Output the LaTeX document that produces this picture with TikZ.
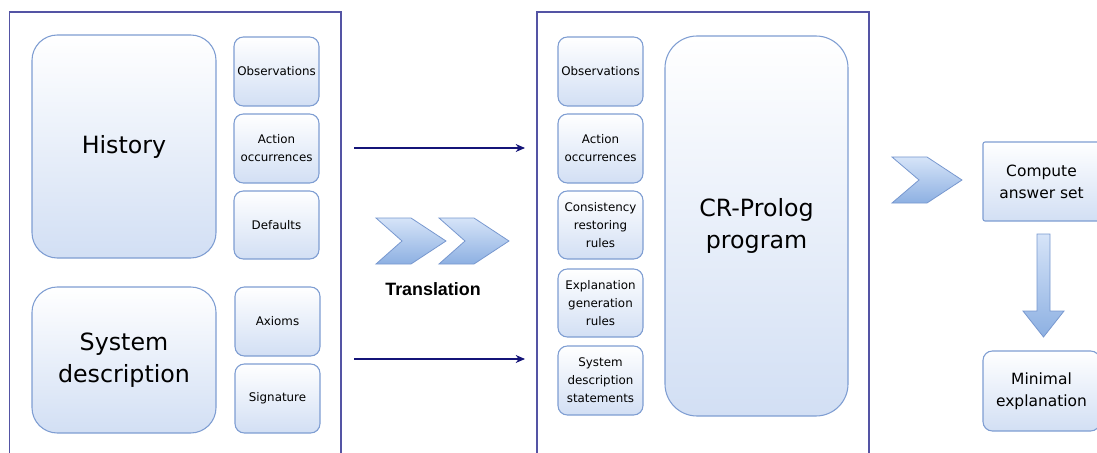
\documentclass[tikz,border=0pt]{standalone}
\usepackage{fontspec}
\setmainfont{DejaVu Sans}
\newfontfamily\boldsans{Liberation Sans}
\usetikzlibrary{arrows.meta}
\definecolor{frame}{HTML}{5454A4}
\definecolor{navy}{HTML}{141478}
\definecolor{bxborder}{HTML}{7E9DD2}
\definecolor{bxbottom}{HTML}{D2DFF4}
\definecolor{chtop}{HTML}{D6E4F8}
\definecolor{chbot}{HTML}{8DB0E2}
\definecolor{chborder}{HTML}{7898CF}
\tikzset{
  px/.style={x=0.75pt,y=-0.75pt},
  panel/.style={draw=frame,line width=0.8pt},
  bluebox/.style={draw=bxborder,line width=0.8pt,top color=white,bottom color=bxbottom,
     inner sep=0pt,outer sep=0pt,align=center,text=black},
  smallbox/.style={bluebox,rounded corners=7pt,font=\fontsize{8.9}{13.6}\selectfont},
  bigbox/.style={bluebox,font=\fontsize{17.8}{24.5}\selectfont},
  midbox/.style={bluebox,font=\fontsize{11.6}{16.5}\selectfont},
  chev/.style={draw=chborder,line width=0.6pt,top color=chtop,bottom color=chbot},
  flow/.style={draw=navy,line width=0.8pt,-{Stealth[length=7pt,width=6pt]}},
}
\newcommand\bx[7]{\node[#6,minimum width={(#4-#2)*0.75pt},minimum height={(#5-#3)*0.75pt}] (#1) at ({(#2+#4)/2},{(#3+#5)/2}) {#7};}
\begin{document}
\begin{tikzpicture}[px]
\useasboundingbox (0,0) rectangle (1097,453);
\clip (0,0) rectangle (1097,453);
% panels
\draw[panel] (9.5,470) -- (9.5,12) -- (341,12) -- (341,470);
\draw[panel] (537,470) -- (537,12) -- (869,12) -- (869,470);
% left panel
\bx{hist}{32}{35}{216}{258}{bigbox,rounded corners=19pt}{History}
\bx{sysd}{32}{287}{216}{433}{bigbox,rounded corners=19pt}{System\\description}
\bx{obs1}{234}{37}{319}{106}{smallbox}{Observations}
\bx{act1}{234}{114}{319}{183}{smallbox}{Action\\occurrences}
\bx{def1}{234}{191}{319}{259}{smallbox}{Defaults}
\bx{axi1}{235}{287}{320}{356}{smallbox}{Axioms}
\bx{sig1}{235}{364}{320}{433}{smallbox}{Signature}
% right panel
\bx{obs2}{558}{37}{643}{106}{smallbox}{Observations}
\bx{act2}{558}{114}{643}{183}{smallbox}{Action\\occurrences}
\bx{con2}{558}{191}{643}{259}{smallbox}{Consistency\\restoring\\rules}
\bx{exp2}{558}{269}{643}{337}{smallbox}{Explanation\\generation\\rules}
\bx{sds2}{558}{346}{643}{415}{smallbox}{System\\description\\statements}
\bx{crp}{665}{36}{848}{416}{bigbox,rounded corners=24pt}{CR-Prolog\\program}
% arrows between panels
\coordinate (a1s) at (354,148);
\coordinate (a1e) at (525,148);
\coordinate (a2s) at (354,359);
\coordinate (a2e) at (525,359);
\draw[flow] (a1s) -- (a1e);
\draw[flow] (a2s) -- (a2e);
% translation chevrons
\draw[chev] (376,218) -- (411,218) -- (446,241) -- (411,264) -- (376,264) -- (402,241) -- cycle;
\draw[chev] (439,218) -- (474,218) -- (509,241) -- (474,264) -- (439,264) -- (465,241) -- cycle;
\node[font=\boldsans\bfseries\fontsize{13.4}{16}\selectfont] (trans) at (433,289) {Translation};
% right part
\draw[chev] (892,157) -- (927,157) -- (962,180) -- (927,203) -- (892,203) -- (919,180) -- cycle;
\bx{cas}{983}{142}{1100}{221}{midbox,rounded corners=1.5pt}{Compute\\answer set}
\bx{mex}{983}{351}{1100}{431}{midbox,rounded corners=7pt}{Minimal\\explanation}
\draw[chev] (1037,234) -- (1050,234) -- (1050,311) -- (1064,311) -- (1043.5,337) -- (1023,311) -- (1037,311) -- cycle;
\end{tikzpicture}
\end{document}
